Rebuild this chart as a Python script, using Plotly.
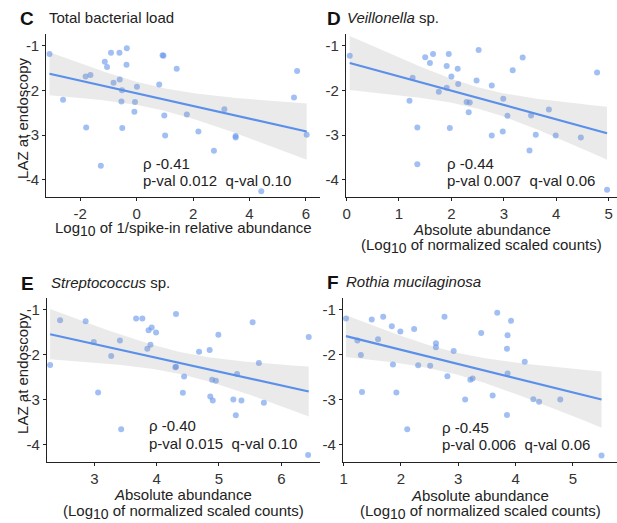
import numpy as np
import plotly.graph_objects as go

# ---------------- data ----------------
c_x = [-3.09, -2.61, -1.81, -1.64, -1.79, -1.27, -1.13, -1.05, -0.91, -0.82, -0.61, -0.60,
       -0.52, -0.54, -0.51, -0.35, -0.36, 0.01, -0.06, -0.08, 0.80, 0.92, 0.95, 0.98,
       1.01, 1.42, 1.78, 2.19, 2.74, 3.11, 3.51, 3.51, 4.42, 5.58, 5.69, 6.03]
c_y = [-1.19, -2.21, -1.69, -1.66, -2.83, -3.68, -1.36, -1.48, -1.16, -1.83, -1.16, -1.76,
       -2.00, -2.25, -2.84, -1.06, -1.43, -1.92, -2.26, -2.48, -1.87, -1.22, -1.23, -2.56,
       -3.01, -1.52, -2.54, -2.92, -3.35, -2.42, -3.02, -3.05, -4.25, -2.16, -1.57, -2.99]

d_x = [0.06, 1.26, 1.20, 1.35, 1.35, 1.50, 1.59, 1.65, 1.76, 1.91, 1.95, 1.91, 1.97, 2.00,
       2.12, 2.13, 2.29, 2.35, 2.33, 2.48, 2.52, 2.77, 2.77, 2.98, 2.99, 3.07, 3.17, 3.36,
       3.49, 3.52, 3.61, 3.86, 3.99, 4.47, 4.78, 4.97]
d_y = [-1.23, -1.72, -2.23, -2.83, -3.65, -1.26, -1.39, -1.19, -2.03, -1.46, -1.19, -1.94,
       -2.84, -1.69, -1.52, -1.86, -2.26, -2.27, -2.49, -1.78, -1.10, -1.89, -3.01, -2.92,
       -2.19, -2.57, -1.55, -1.27, -3.34, -2.56, -2.99, -2.43, -3.01, -3.05, -1.60, -4.22]

e_x = [2.29, 2.45, 2.86, 2.99, 3.06, 3.27, 3.41, 3.43, 3.67, 3.77, 3.85, 3.87, 3.90, 3.92,
       3.99, 4.30, 4.31, 4.31, 4.42, 4.44, 4.68, 4.85, 4.86, 4.89, 4.90, 4.95, 4.99, 5.23,
       5.27, 5.29, 5.36, 5.54, 5.64, 5.72, 6.43, 6.44]
e_y = [-2.23, -1.24, -1.26, -1.72, -2.84, -2.03, -1.69, -3.66, -1.20, -1.20, -1.87, -1.46,
       -1.78, -1.40, -1.51, -2.28, -2.27, -1.10, -2.85, -2.49, -1.94, -1.90, -2.93, -2.56,
       -3.02, -2.58, -1.56, -3.00, -3.35, -2.43, -3.02, -1.28, -2.19, -3.07, -4.23, -1.61]

f_x = [1.04, 1.24, 1.30, 1.32, 1.49, 1.60, 1.69, 1.84, 1.86, 1.92, 1.99, 2.11, 2.23, 2.30,
       2.51, 2.61, 2.61, 2.76, 2.81, 2.92, 3.12, 3.21, 3.25, 3.40, 3.60, 3.68, 3.85, 3.85,
       3.86, 3.86, 3.92, 4.16, 4.31, 4.41, 4.78, 5.50]
f_y = [-1.20, -1.69, -2.01, -2.83, -1.22, -1.66, -1.16, -1.37, -2.22, -2.84, -1.49, -3.66,
       -1.43, -2.24, -2.25, -1.75, -1.84, -1.16, -2.48, -1.92, -3.00, -2.56, -2.53, -1.52,
       -2.91, -1.07, -3.34, -1.87, -1.57, -2.42, -1.25, -2.16, -2.99, -3.05, -3.00, -4.24]

panel_letters = ["C", "D", "E", "F"]
panel_titles = ["Total bacterial load", "<i>Veillonella</i> sp.",
                "<i>Streptococcus</i> sp.", "<i>Rothia mucilaginosa</i>"]
rho_labels = ["ρ -0.41", "ρ -0.44", "ρ -0.40", "ρ -0.45"]
p_labels = ["p-val 0.012&nbsp; q-val 0.10", "p-val 0.007&nbsp; q-val 0.06",
            "p-val 0.015&nbsp; q-val 0.10", "p-val 0.006&nbsp; q-val 0.06"]
SUB10 = "Log<sub><span style='font-size:14px'>10</span></sub>"
x_title_line1 = [SUB10 + " of 1/spike-in relative abundance",
                 "<i>A</i>bsolute abundance", "<i>A</i>bsolute abundance",
                 "<i>A</i>bsolute abundance"]
x_title_line2 = ["", "(" + SUB10 + " of normalized scaled counts)",
                 "(" + SUB10 + " of normalized scaled counts)",
                 "(" + SUB10 + " of normalized scaled counts)"]
y_title = "LAZ at endoscopy"
x_ticks = [[-2, 0, 2, 4, 6], [0, 1, 2, 3, 4, 5], [3, 4, 5, 6], [1, 2, 3, 4, 5]]
y_ticks = [-1, -2, -3, -4]

# ---------------- layout geometry ----------------
W, H = 617, 523
x_ranges = [[-3.2, 6.5], [-0.01, 5.16], [2.24, 6.62], [0.99, 5.77]]
y_range = [-4.38, -0.75]
# pixel boxes: (left, right, top, bottom)
boxes = [(42.7, 318, 34.3, 197), (344.3, 617, 34.3, 197),
         (43.3, 318, 298.3, 461.7), (341.3, 617, 298.3, 461.7)]
letter_x = [14, 323, 15, 323]
title_x = [43, 343, 45, 342]
title_yc = [17, 17, 282, 281]
stat_x = [138, 444, 144, 439]
stat_y1 = [163, 163, 425, 427]
stat_y2 = [180, 180, 443, 444]
xt_y1 = [229, 229, 494, 495]
xt_y2 = [None, 246, 512, 512]
yt_yc = [118, None, 373, None]

FONT = "Liberation Sans, Arial, Helvetica, sans-serif"
PT_COLOR = "rgba(100,149,237,0.6)"
LINE_COLOR = "#5A8FEA"
BAND_COLOR = "rgba(150,150,150,0.2)"
TXT = "#222"
T_CRIT = 2.032

fig = go.Figure()
datasets = [(c_x, c_y), (d_x, d_y), (e_x, e_y), (f_x, f_y)]
annotations = []


def ann(text, xp, yp, anchor="left", size=15, angle=0, color=TXT):
    return dict(text=text, x=xp / W, y=1 - yp / H, xref="paper", yref="paper",
                xanchor=anchor, yanchor="middle", showarrow=False, textangle=angle,
                font=dict(family=FONT, size=size, color=color))


for i, (xs, ys) in enumerate(datasets):
    ax = "" if i == 0 else str(i + 1)
    xa, ya = "x" + ax, "y" + ax
    x = np.array(xs)
    y = np.array(ys)
    n = len(x)
    b, a = np.polyfit(x, y, 1)
    resid = y - (a + b * x)
    s = np.sqrt(np.sum(resid ** 2) / (n - 2))
    xm = x.mean()
    sxx = np.sum((x - xm) ** 2)
    grid = np.linspace(x.min(), x.max(), 80)
    fit = a + b * grid
    se = s * np.sqrt(1 / n + (grid - xm) ** 2 / sxx)
    upper = fit + T_CRIT * se
    lower = fit - T_CRIT * se

    fig.add_trace(go.Scatter(x=x, y=y, mode="markers", xaxis=xa, yaxis=ya,
                             marker=dict(size=6, color=PT_COLOR, line=dict(width=0)),
                             cliponaxis=False, showlegend=False, hoverinfo="skip"))
    fig.add_trace(go.Scatter(x=grid, y=upper, mode="lines", xaxis=xa, yaxis=ya,
                             line=dict(width=0), showlegend=False, hoverinfo="skip"))
    fig.add_trace(go.Scatter(x=grid, y=lower, mode="lines", xaxis=xa, yaxis=ya,
                             line=dict(width=0), fill="tonexty", fillcolor=BAND_COLOR,
                             showlegend=False, hoverinfo="skip"))
    fig.add_trace(go.Scatter(x=grid, y=fit, mode="lines", xaxis=xa, yaxis=ya,
                             line=dict(width=2.2, color=LINE_COLOR),
                             showlegend=False, hoverinfo="skip"))

    l, r, t, btm = boxes[i]
    axis_common = dict(showline=True, linecolor="#222", linewidth=1.4, showgrid=False,
                       zeroline=False, ticks="outside", ticklen=3, tickwidth=1.2,
                       tickcolor="#222", tickfont=dict(family=FONT, size=15, color="#333"))
    fig.layout["xaxis" + ax] = dict(domain=[l / W, r / W], range=x_ranges[i],
                                    tickvals=x_ticks[i], ticktext=[str(v) for v in x_ticks[i]],
                                    anchor=ya, **axis_common)
    fig.layout["yaxis" + ax] = dict(domain=[1 - btm / H, 1 - t / H], range=y_range,
                                    tickvals=y_ticks, ticktext=[str(v) for v in y_ticks],
                                    anchor=xa, **axis_common)

    cx = (l + r) / 2
    annotations.append(ann("<b>%s</b>" % panel_letters[i], letter_x[i], title_yc[i] + 1,
                           size=19, color="#111"))
    annotations.append(ann(panel_titles[i], title_x[i], title_yc[i]))
    annotations.append(ann(rho_labels[i], stat_x[i], stat_y1[i]))
    annotations.append(ann(p_labels[i], stat_x[i], stat_y2[i]))
    annotations.append(ann(x_title_line1[i], cx, xt_y1[i], anchor="center"))
    if xt_y2[i] is not None:
        annotations.append(ann(x_title_line2[i], cx, xt_y2[i], anchor="center"))
    if yt_yc[i] is not None:
        annotations.append(ann(y_title, 18, yt_yc[i], anchor="center", angle=-90))

fig.update_layout(width=W, height=H, margin=dict(l=0, r=0, t=0, b=0),
                  paper_bgcolor="white", plot_bgcolor="white",
                  annotations=annotations, showlegend=False)
fig.write_html("out.html", config={"displayModeBar": False},
               post_script="document.body.style.margin='0';document.body.style.overflow='hidden';")
